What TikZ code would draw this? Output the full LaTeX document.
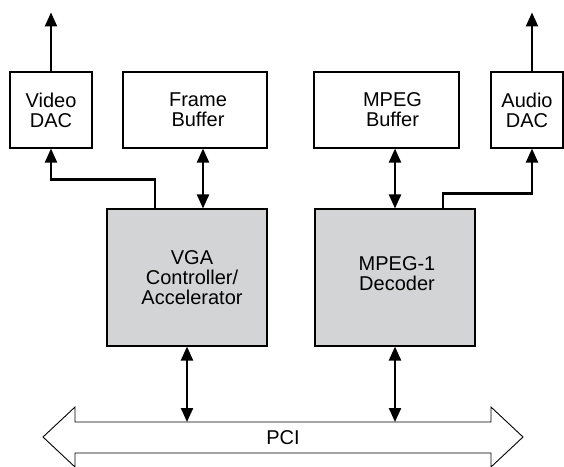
\documentclass[tikz,border=0pt]{standalone}
\usepackage{fontspec}
\setmainfont{Liberation Sans}
\usetikzlibrary{arrows.meta,calc,positioning}
\definecolor{chipgray}{RGB}{211,212,214}

\tikzset{
	box/.style={draw,line width=1.1pt,inner sep=0pt,align=center,
		font=\fontsize{20}{20}\selectfont,minimum height=76pt},
	chip/.style={box,fill=chipgray,minimum width=160pt,minimum height=137pt},
	link/.style={line width=2.2pt,-{Triangle[length=14pt,width=12pt]}},
	duplex/.style={line width=2.2pt,{Triangle[length=14pt,width=12pt]}-{Triangle[length=14pt,width=12pt]}}
}

\begin{document}
\begin{tikzpicture}[x=1pt,y=-1pt]
		\useasboundingbox (0,0) rectangle (564,466);
		% upper row
		\node[box,minimum width=82pt] (vdac) at (51,110) {Video\\DAC};
		\node[box,minimum width=144pt] (fb) at (195,110) {\hspace{6pt}Frame\\\hspace{6pt}Buffer};
		\node[box,minimum width=145pt] (mb) at (386.5,110) {\hspace{12pt}MPEG\\\hspace{12pt}Buffer};
		\node[box,minimum width=72pt] (adac) at (527,110) {Audio\\DAC};
		% chips
		\node[chip] (vga) at (187,277.5) {\hspace{10pt}VGA\\\hspace{10pt}Controller/\\\hspace{10pt}Accelerator};
		\node[chip] (dec) at (395,277.5) {};
		\node[align=center,font=\fontsize{20}{20}\selectfont] (declabel) at (397,274) {MPEG-1\\Decoder};
		% bus
		\draw[line width=0.9pt,fill=white] (43,437) -- (75,407) -- (75,422) -- (491,422)
			-- (491,407) -- (523,437) -- (491,467) -- (491,453) -- (75,453) -- (75,467) -- cycle;
		\coordinate (bustop) at (283,422);
		\node[font=\fontsize{20}{20}\selectfont] (pci) at (283,437.5) {PCI};
		% connectors
		\coordinate (fbport) at ($(fb.south)+(8,0)$);
		\coordinate (aport) at ($(adac.south)+(5,0)$);
		\draw[link] (vdac.north) -- ++(0,-59);
		\draw[link] (aport |- adac.north) -- ++(0,-59);
		\draw[link] ($(vga.north)+(-32,0)$) -- ++(0,-29) -| (vdac.south);
		\draw[link] ($(dec.north)+(48,0)$) -- ++(0,-15) -| (aport);
		\draw[duplex] (fbport) -- (fbport |- vga.north);
		\draw[duplex] (dec.north) -- (dec.north |- mb.south);
		\draw[duplex] (vga.south) -- (vga.south |- bustop);
		\draw[duplex] (dec.south) -- (dec.south |- bustop);
\end{tikzpicture}
\end{document}
